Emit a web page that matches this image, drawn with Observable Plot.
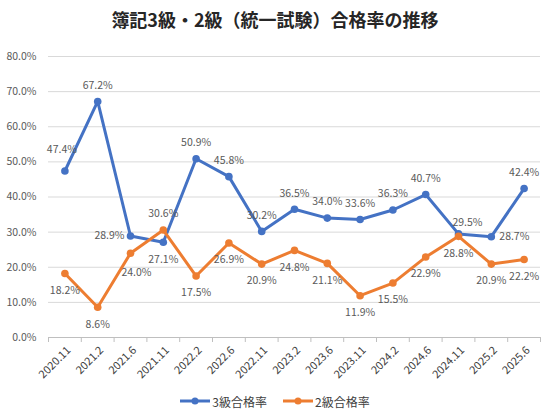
<!DOCTYPE html>
<html>
<head>
<meta charset="utf-8">
<script src="https://cdn.jsdelivr.net/npm/d3@7"></script>
<script src="https://cdn.jsdelivr.net/npm/@observablehq/plot@0.6"></script>
<style>
  body { margin: 0; background: #fff; font-family: "Noto Sans CJK JP", sans-serif; }
  #wrap { width: 550px; }
  #title { height: 38px; line-height: 38px; text-align: center; font-size: 18px; font-weight: bold; color: #262626; }
  #legend { display: flex; justify-content: center; gap: 16px; font-size: 12px; color: #404040; height: 26px; align-items: center; }
  #legend span.item { display: flex; align-items: center; }
  #legend svg { margin-right: 2px; }
</style>
</head>
<body>
<div id="wrap">
  <div id="title">簿記3級・2級（統一試験）合格率の推移</div>
  <div id="chart"></div>
  <div id="legend"></div>
</div>
<script>
const periods = ["2020.11", "2021.2", "2021.6", "2021.11", "2022.2", "2022.6", "2022.11", "2023.2", "2023.6", "2023.11", "2024.2", "2024.6", "2024.11", "2025.2", "2025.6"];
const pass3 = [47.4, 67.2, 28.9, 27.1, 50.9, 45.8, 30.2, 36.5, 34.0, 33.6, 36.3, 40.7, 29.5, 28.7, 42.4];
const pass2 = [18.2, 8.6, 24.0, 30.6, 17.5, 26.9, 20.9, 24.8, 21.1, 11.9, 15.5, 22.9, 28.8, 20.9, 22.2];
const yTicks = [0, 0.1, 0.2, 0.3, 0.4, 0.5, 0.6, 0.7, 0.8];
const seriesNames = ["3級合格率", "2級合格率"];

// where each data label sits relative to its point
const labelPlace3 = ["a2", "a", "l", "b", "a", "a", "a", "a", "a", "a", "a", "a", "ar", "r", "a"];
const labelPlace2 = ["b", "b", "b2", "a", "b", "b", "b", "b", "b", "b", "b", "b", "b", "b", "b"];
const offsets = {
  a: [0, -16, "middle"], b: [0, 17, "middle"], l: [-6, 0, "end"], r: [8, 0, "start"],
  ar: [9, -11, "middle"], a2: [-3, -21, "middle"], b2: [6, 19, "middle"]
};
const colors = ["#4472C4", "#ED7D31"];

const rows3 = periods.map((p, i) => ({i, p, v: pass3[i] / 100, place: labelPlace3[i]}));
const rows2 = periods.map((p, i) => ({i, p, v: pass2[i] / 100, place: labelPlace2[i]}));
const boundaries = d3.range(periods.length + 1).map(k => k - 0.5);

function labels(rows) {
  return Object.keys(offsets).map(code => {
    const [dx, dy, anchor] = offsets[code];
    return Plot.text(rows.filter(d => d.place === code), {
      x: "i", y: "v", text: d => d.v.toLocaleString("en", {style: "percent", minimumFractionDigits: 1}),
      dx, dy, textAnchor: anchor, fill: "#595959", fontSize: 10.5
    });
  });
}

const plot = Plot.plot({
  width: 550,
  height: 350,
  marginTop: 18,
  marginBottom: 51,
  marginLeft: 48,
  marginRight: 10,
  style: {fontFamily: "'Noto Sans CJK JP', sans-serif", fontSize: "10px", color: "#595959"},
  x: {domain: [-0.5, periods.length - 0.5], axis: null, label: null},
  y: {domain: [0, 0.8], axis: null, label: null},
  marks: [
    Plot.gridY(yTicks.slice(1), {stroke: "#d9d9d9", strokeOpacity: 1}),
    Plot.axisY(yTicks, {tickSize: 0, tickPadding: 12, tickFormat: ".1%", fill: "#595959", fontSize: 10.5, label: null}),
    Plot.ruleY([0], {stroke: "#bfbfbf"}),
    Plot.axisX(boundaries, {tickSize: 5, tickFormat: () => "", stroke: "#bfbfbf", strokeOpacity: 1, label: null}),
    Plot.text(rows3, {x: "i", y: 0, text: "p", rotate: -45, textAnchor: "end", dx: 4, dy: 11, fill: "#404040", fontSize: 11}),
    Plot.lineY(rows3, {x: "i", y: "v", stroke: colors[0], strokeWidth: 3}),
    Plot.dot(rows3, {x: "i", y: "v", r: 3.8, fill: colors[0]}),
    Plot.lineY(rows2, {x: "i", y: "v", stroke: colors[1], strokeWidth: 3}),
    Plot.dot(rows2, {x: "i", y: "v", r: 3.8, fill: colors[1]}),
    ...labels(rows3),
    ...labels(rows2)
  ]
});
document.querySelector("#chart").append(plot);

// legend
let legendHtml = "";
seriesNames.forEach((name, k) => {
  legendHtml += `<span class="item"><svg width="30" height="10"><line x1="0" y1="5" x2="30" y2="5" stroke="${colors[k]}" stroke-width="3"/><circle cx="15" cy="5" r="3.5" fill="${colors[k]}"/></svg>${name}</span>`;
});
document.querySelector("#legend").innerHTML = legendHtml;
</script>
</body>
</html>
